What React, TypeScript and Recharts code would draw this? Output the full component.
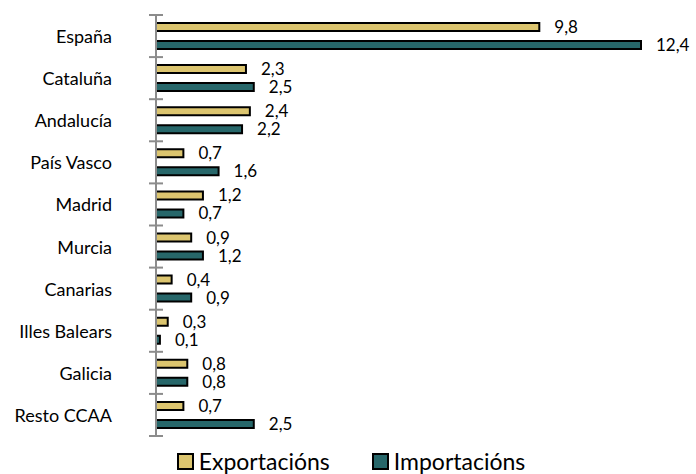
import React from 'react';
import { BarChart, Bar, XAxis, YAxis, LabelList, Legend } from 'recharts';

const categories = ['España', 'Cataluña', 'Andalucía', 'País Vasco', 'Madrid', 'Murcia', 'Canarias', 'Illes Balears', 'Galicia', 'Resto CCAA'];
const exportacions = [9.8, 2.3, 2.4, 0.7, 1.2, 0.9, 0.4, 0.3, 0.8, 0.7];
const importacions = [12.4, 2.5, 2.2, 1.6, 0.7, 1.2, 0.9, 0.1, 0.8, 2.5];
const seriesNames = ['Exportacións', 'Importacións'];
const xDomain = [0, 12.4];

const data = categories.map((c, i) => ({ name: c, exp: exportacions[i], imp: importacions[i] }));

const FONT = 'Lato, "Open Sans", sans-serif';
const AXIS_COLOR = '#8c8c8c';
const TICK_MARGIN = 44;
const EXP_COLOR = '#DCC56F';
const IMP_COLOR = '#27676A';

const fmt = (v: any) => Number(v).toFixed(1).replace('.', ',');

const CategoryTick = (props: any) => {
  const { x, y, payload, index, visibleTicksCount } = props;
  const half = payload && typeof payload.offset === 'number' ? payload.offset : 21;
  const axisX = x + TICK_MARGIN;
  return (
    <g>
      <text x={x} y={y} textAnchor="end" dominantBaseline="central" fontFamily={FONT} fontSize={18} fill="#000">
        {payload.value}
      </text>
      <line x1={axisX - 7} x2={axisX + 7} y1={y - half} y2={y - half} stroke={AXIS_COLOR} strokeWidth={2} />
      {index === visibleTicksCount - 1 && (
        <line x1={axisX - 7} x2={axisX + 7} y1={y + half} y2={y + half} stroke={AXIS_COLOR} strokeWidth={2} />
      )}
    </g>
  );
};

const renderLegend = (props: any) => {
  const { payload } = props;
  return (
    <div style={{ display: 'flex', justifyContent: 'center', alignItems: 'flex-end', height: 38, paddingLeft: 6, boxSizing: 'border-box', fontFamily: FONT, fontSize: 23, lineHeight: '26px', color: '#000', gap: 42 }}>
      {(payload || []).map((p: any, i: number) => (
        <div key={i} style={{ display: 'flex', alignItems: 'center' }}>
          <span style={{ display: 'inline-block', width: 13, height: 13, background: p.color, border: '2px solid #000', marginRight: 5 }} />
          <span>{p.value}</span>
        </div>
      ))}
    </div>
  );
};

export default function App() {
  return (
    <div style={{ position: 'absolute', left: 0, top: 0 }}>
      <BarChart
        width={696}
        height={474}
        data={data}
        layout="vertical"
        margin={{ top: 15, right: 55, bottom: 0, left: 0 }}
        barSize={8}
        barGap={10}
      >
        <XAxis type="number" domain={xDomain} hide />
        <YAxis
          type="category"
          dataKey="name"
          width={156}
          axisLine={{ stroke: AXIS_COLOR, strokeWidth: 2 }}
          tickLine={false}
          tickSize={0}
          tickMargin={TICK_MARGIN}
          interval={0}
          tick={<CategoryTick />}
        />
        <Legend verticalAlign="bottom" height={38} wrapperStyle={{ bottom: 0, left: 0, width: 696 }} content={renderLegend} />
        <Bar dataKey="exp" name={seriesNames[0]} fill={EXP_COLOR} stroke="#000" strokeWidth={2} isAnimationActive={false}>
          <LabelList dataKey="exp" position="right" offset={15} formatter={fmt} fill="#000" fontSize={17} fontFamily={FONT} />
        </Bar>
        <Bar dataKey="imp" name={seriesNames[1]} fill={IMP_COLOR} stroke="#000" strokeWidth={2} isAnimationActive={false}>
          <LabelList dataKey="imp" position="right" offset={15} formatter={fmt} fill="#000" fontSize={17} fontFamily={FONT} />
        </Bar>
      </BarChart>
    </div>
  );
}
